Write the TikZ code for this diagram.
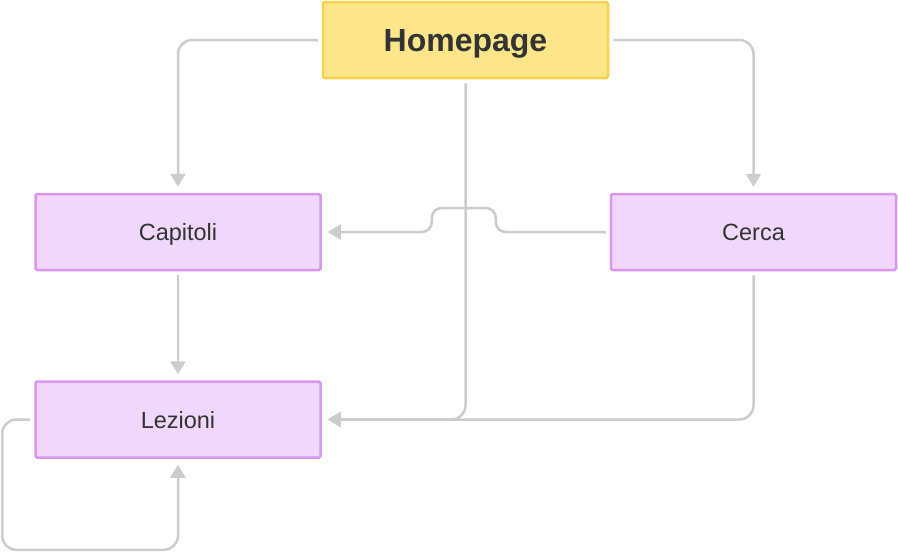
\documentclass[tikz,border=0pt]{standalone}
\usepackage{fontspec}
\setmainfont{Liberation Sans}
\usepackage{tikz}
\usetikzlibrary{arrows.meta, positioning, calc}
\definecolor{homefill}{HTML}{FDE68A}
\definecolor{homeline}{HTML}{FAD34A}
\definecolor{pagefill}{HTML}{F0D8FD}
\definecolor{pageline}{HTML}{D896F5}
\definecolor{linkgray}{HTML}{CCCCCC}
\definecolor{textgray}{HTML}{333333}

\begin{document}
\begin{tikzpicture}[x=1pt, y=-1pt, >={Triangle[width=15pt, length=13pt]},
  box/.style={draw, line width=2.5pt, minimum width=285pt, minimum height=76pt, inner sep=0pt,
    text=textgray, text depth=0pt, rounded corners=1.5pt},
  homebox/.style={box, fill=homefill, draw=homeline, text height=23pt, font=\fontsize{32}{38}\selectfont\bfseries},
  pagebox/.style={box, fill=pagefill, draw=pageline, text height=17pt, font=\fontsize{23.5}{28}\selectfont},
  link/.style={->, draw=linkgray, line width=2.5pt, rounded corners=14pt, shorten <=4pt, shorten >=6pt}]
  \useasboundingbox (0,0) rectangle (898,555);

  \node[homebox] (hp) at (465.5,40) {Homepage};
  \node[pagebox] (cap) at (178,232) {Capitoli};
  \node[pagebox, right=288pt of cap] (cer) {Cerca};
  \node[pagebox, below=109pt of cap] (lez) {Lezioni};

  \draw[link] (hp.west) -| (cap.north);
  \draw[link] (hp.east) -| (cer.north);
  \draw[link] (hp.south) |- (lez.east);
  \draw[link] (cer.south) |- (lez.east);
  \draw[link] (cap.south) -- (lez.north);
  % jump over the homepage line
  \draw[link, rounded corners=10pt] (cer.west) -- ++(-114,0) -- ++(0,-24) -- ++(-64,0) -- ++(0,24) -- (cap.east);
  \draw[link] (lez.west) -- ++(-32,0) |- ($(lez.south)+(0,91)$) -- (lez.south);
\end{tikzpicture}
\end{document}
